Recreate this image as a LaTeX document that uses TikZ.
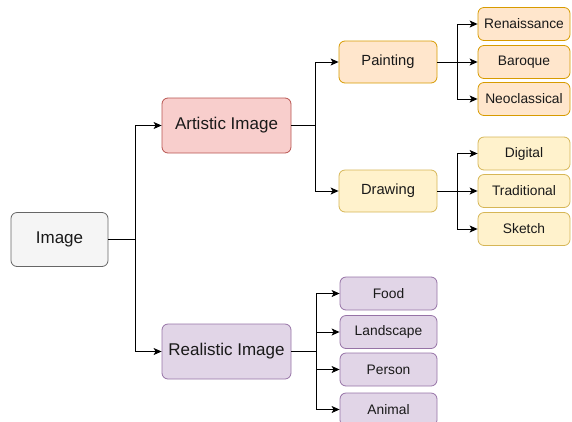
\documentclass[tikz,border=0pt]{standalone}
\usepackage{fontspec}
\setmainfont{Liberation Sans}
\usetikzlibrary{arrows.meta}
\definecolor{grayfill}{HTML}{F5F5F5}
\definecolor{graystroke}{HTML}{666666}
\definecolor{redfill}{HTML}{F8CECC}
\definecolor{redstroke}{HTML}{B85450}
\definecolor{orangefill}{HTML}{FFE6CC}
\definecolor{orangestroke}{HTML}{D79B00}
\definecolor{yellowfill}{HTML}{FFF2CC}
\definecolor{yellowstroke}{HTML}{D6B656}
\definecolor{purplefill}{HTML}{E1D5E7}
\definecolor{purplestroke}{HTML}{9673A6}
\tikzset{
  box/.style={draw, rounded corners=6pt, line width=0.8pt, inner sep=0pt, text=black!90},
  bigbox/.style={box, minimum width=129pt, minimum height=55pt, font=\fontsize{17}{20}\selectfont},
  midbox/.style={box, minimum width=98pt, minimum height=42pt, font=\fontsize{14.7}{17}\selectfont},
  leafbox/.style={box, minimum width=92pt, minimum height=33pt, font=\fontsize{13.8}{16}\selectfont},
  rleafbox/.style={box, minimum width=97pt, minimum height=33pt, font=\fontsize{13.8}{16}\selectfont},
  graybox/.style={fill=grayfill, draw=graystroke},
  redbox/.style={fill=redfill, draw=redstroke},
  orangebox/.style={fill=orangefill, draw=orangestroke},
  yellowbox/.style={fill=yellowfill, draw=yellowstroke},
  purplebox/.style={fill=purplefill, draw=purplestroke},
  conn/.style={line width=0.9pt, -{Stealth[length=8pt,width=7pt,inset=2pt]}},
  plain/.style={line width=0.9pt}
}
\begin{document}
\begin{tikzpicture}[x=1pt,y=-1pt]
\useasboundingbox (0,0) rectangle (572,421);
% nodes
\node[bigbox, graybox, minimum width=97pt, minimum height=54pt] (img) at (59.5,239.5) {Image};
\node[bigbox, redbox] (art) at (226.5,125.5) {Artistic Image};
\node[bigbox, purplebox] (real) at (226.5,351.5) {Realistic Image};
\node[midbox, orangebox] (paint) at (388,62) {Painting};
\node[midbox, yellowbox] (draw) at (388,191) {Drawing};
\node[leafbox, orangebox] (ren) at (524,24) {Renaissance};
\node[leafbox, orangebox] (bar) at (524,62) {Baroque};
\node[leafbox, orangebox] (neo) at (524,99) {Neoclassical};
\node[leafbox, yellowbox] (dig) at (524,153.5) {Digital};
\node[leafbox, yellowbox] (trad) at (524,191) {Traditional};
\node[leafbox, yellowbox] (sk) at (524,229) {Sketch};
\node[rleafbox, purplebox] (food) at (388.5,293.5) {Food};
\node[rleafbox, purplebox] (land) at (388.5,332) {Landscape};
\node[rleafbox, purplebox] (pers) at (388.5,369.5) {Person};
\node[rleafbox, purplebox] (anim) at (388.5,409.5) {Animal};
% bus coordinates
\coordinate (b0) at (135,239.5);
\coordinate (b1) at (315,125.5);
\coordinate (b2) at (457,62);
\coordinate (b3) at (457,191);
\coordinate (b4) at (316,351.5);
% connectors
\draw[plain] (img.east) -- (b0);
\draw[conn] (b0) |- (art.west);
\draw[conn] (b0) |- (real.west);
\draw[plain] (art.east) -- (b1);
\draw[conn] (b1) |- (paint.west);
\draw[conn] (b1) |- (draw.west);
\draw[plain] (paint.east) -- (b2);
\draw[conn] (b2) |- (ren.west);
\draw[conn] (b2) -- (bar.west);
\draw[conn] (b2) |- (neo.west);
\draw[plain] (draw.east) -- (b3);
\draw[conn] (b3) |- (dig.west);
\draw[conn] (b3) -- (trad.west);
\draw[conn] (b3) |- (sk.west);
\draw[plain] (real.east) -- (b4);
\draw[conn] (b4) |- (food.west);
\draw[conn] (b4) |- (land.west);
\draw[conn] (b4) |- (pers.west);
\draw[conn] (b4) |- (anim.west);
\end{tikzpicture}
\end{document}
